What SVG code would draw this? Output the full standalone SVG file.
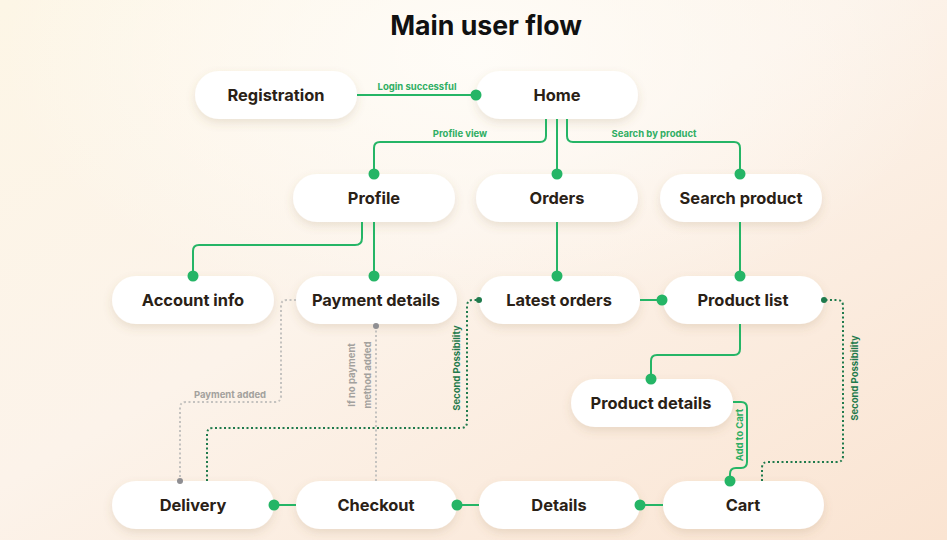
<svg xmlns="http://www.w3.org/2000/svg" width="947" height="540" viewBox="0 0 947 540">
<defs>
<linearGradient id="bg" x1="0" y1="0" x2="1" y2="1">
<stop offset="0" stop-color="#fdf6e6"/>
<stop offset="0.45" stop-color="#fcf3ea"/>
<stop offset="1" stop-color="#fae4d2"/>
</linearGradient>
<radialGradient id="glow" cx="0.5" cy="0.1" r="0.5">
<stop offset="0" stop-color="#fffdf9" stop-opacity="0.9"/>
<stop offset="1" stop-color="#fffdf9" stop-opacity="0"/>
</radialGradient>
<filter id="sh" x="-20%" y="-40%" width="140%" height="190%">
<feDropShadow dx="0" dy="4" stdDeviation="5" flood-color="#8a6a40" flood-opacity="0.16"/>
</filter>
</defs>
<style>
.node rect{fill:#ffffff;filter:url(#sh)}
.node text{font-family:Inter,"Liberation Sans",sans-serif;font-weight:700;font-size:16.4px;fill:#2a2116;text-anchor:middle;dominant-baseline:central}
.g{fill:none;stroke:#25b566;stroke-width:2}
.gd{fill:#25b566}
.dk{fill:none;stroke:#1f7a4c;stroke-width:2;stroke-dasharray:2 2.5}
.dkd{fill:#1f7a4c}
.gr{fill:none;stroke:#c4c2bf;stroke-width:2;stroke-dasharray:2 2.5}
.grd{fill:#8e8e92}
.lbl{font-family:Inter,"Liberation Sans",sans-serif;font-weight:700;font-size:9.5px;fill:#2fae63;text-anchor:middle}
.lbldk{font-family:Inter,"Liberation Sans",sans-serif;font-weight:700;font-size:9.5px;fill:#1f7a4c;text-anchor:middle}
.lblgr{font-family:Inter,"Liberation Sans",sans-serif;font-weight:700;font-size:9.5px;fill:#a3a19d;text-anchor:middle}
</style>
<rect width="947" height="540" fill="url(#bg)"/>
<rect width="947" height="540" fill="url(#glow)"/>
<text x="486" y="35" font-family="Inter,'Liberation Sans',sans-serif" font-weight="700" font-size="26.7" fill="#111" text-anchor="middle">Main user flow</text>

<g id="registration" class="node"><rect x="195" y="71" width="162" height="48" rx="24"/><text x="276" y="95">Registration</text></g>
<g id="home" class="node"><rect x="476" y="71" width="162" height="48" rx="24"/><text x="557" y="95">Home</text></g>
<g id="profile" class="node"><rect x="293" y="174" width="162" height="48" rx="24"/><text x="374" y="198">Profile</text></g>
<g id="orders" class="node"><rect x="476" y="174" width="162" height="48" rx="24"/><text x="557" y="198">Orders</text></g>
<g id="search-product" class="node"><rect x="660" y="174" width="162" height="48" rx="24"/><text x="741" y="198">Search product</text></g>
<g id="account-info" class="node"><rect x="112" y="276" width="162" height="48" rx="24"/><text x="193" y="300">Account info</text></g>
<g id="payment-details" class="node"><rect x="296" y="276" width="161" height="48" rx="24"/><text x="376" y="300">Payment details</text></g>
<g id="latest-orders" class="node"><rect x="479" y="276" width="161" height="48" rx="24"/><text x="559" y="300">Latest orders</text></g>
<g id="product-list" class="node"><rect x="663" y="276" width="161" height="48" rx="24"/><text x="743" y="300">Product list</text></g>
<g id="product-details" class="node"><rect x="571" y="379" width="162" height="48" rx="24"/><text x="651" y="403">Product details</text></g>
<g id="delivery" class="node"><rect x="112" y="481" width="162" height="48" rx="24"/><text x="193" y="505">Delivery</text></g>
<g id="checkout" class="node"><rect x="296" y="481" width="161" height="48" rx="24"/><text x="376" y="505">Checkout</text></g>
<g id="details" class="node"><rect x="479" y="481" width="161" height="48" rx="24"/><text x="559" y="505">Details</text></g>
<g id="cart" class="node"><rect x="663" y="481" width="161" height="48" rx="24"/><text x="743" y="505">Cart</text></g>

<g id="connectors">
<!-- Registration -> Home -->
<path class="g" d="M357 95 H476"/>
<circle class="gd" cx="476" cy="95" r="5.5"/>
<text class="lbl" x="417" y="90">Login successful</text>
<!-- Home -> Profile -->
<path class="g" d="M546 119 V136 Q546 142 540 142 H380 Q374 142 374 148 V174"/>
<circle class="gd" cx="374" cy="174" r="5.5"/>
<text class="lbl" x="460" y="137">Profile view</text>
<!-- Home -> Orders -->
<path class="g" d="M557 119 V174"/>
<circle class="gd" cx="557" cy="174" r="5.5"/>
<!-- Home -> Search product -->
<path class="g" d="M567 119 V136 Q567 142 573 142 H734 Q740 142 740 148 V174"/>
<circle class="gd" cx="740" cy="174" r="5.5"/>
<text class="lbl" x="654" y="137">Search by product</text>
<!-- Profile -> Account info -->
<path class="g" d="M362 222 V238 Q362 245 355 245 H199 Q193 245 193 251 V276"/>
<circle class="gd" cx="193" cy="276" r="5.5"/>
<!-- Profile -> Payment details -->
<path class="g" d="M374 222 V276"/>
<circle class="gd" cx="374" cy="276" r="5.5"/>
<!-- Orders -> Latest orders -->
<path class="g" d="M557 222 V276"/>
<circle class="gd" cx="557" cy="276" r="5.5"/>
<!-- Search product -> Product list -->
<path class="g" d="M740 222 V276"/>
<circle class="gd" cx="740" cy="276" r="5.5"/>
<!-- Latest orders -> Product list -->
<path class="g" d="M640 300 H662"/>
<circle class="gd" cx="662" cy="300" r="5.5"/>
<!-- Product list -> Product details -->
<path class="g" d="M740 324 V349 Q740 355 734 355 H657 Q651 355 651 361 V379"/>
<circle class="gd" cx="651" cy="379" r="5.5"/>
<!-- Product details -> Cart -->
<path class="g" d="M733 402 H741 Q747 402 747 408 V462 Q747 468 741 468 H736 Q730 468 730 474 V481"/>
<circle class="gd" cx="730" cy="481" r="5.5"/>
<text class="lbl" transform="translate(743 435) rotate(-90)">Add to Cart</text>
<!-- Cart -> Product list (dotted) -->
<path class="dk" d="M762 481 V468 Q762 462 768 462 H837 Q843 462 843 456 V306 Q843 300 837 300 H826"/>
<circle class="dkd" cx="824" cy="300" r="3"/>
<text class="lbldk" transform="translate(858 378) rotate(-90)">Second Possibility</text>
<!-- Delivery -> Latest orders (dotted) -->
<path class="dk" d="M207 481 V434 Q207 428 213 428 H461 Q467 428 467 422 V306 Q467 300 473 300 H477"/>
<circle class="dkd" cx="479" cy="300" r="3"/>
<text class="lbldk" transform="translate(460 368) rotate(-90)">Second Possibility</text>
<!-- Payment details -> Delivery (gray dotted) -->
<path class="gr" d="M296 300 H287 Q281 300 281 306 V396 Q281 402 275 402 H186 Q180 402 180 408 V479"/>
<circle class="grd" cx="180" cy="481" r="3"/>
<text class="lblgr" x="230" y="398">Payment added</text>
<!-- Checkout -> Payment details (gray dotted) -->
<path class="gr" d="M376 481 V328"/>
<circle class="grd" cx="376" cy="326" r="3"/>
<text class="lblgr" transform="translate(355 375) rotate(-90)">If no payment</text>
<text class="lblgr" transform="translate(371 375) rotate(-90)">method added</text>
<!-- Checkout -> Delivery -->
<path class="g" d="M274 505 H296"/>
<circle class="gd" cx="274" cy="505" r="5.5"/>
<!-- Details -> Checkout -->
<path class="g" d="M457 505 H479"/>
<circle class="gd" cx="457" cy="505" r="5.5"/>
<!-- Cart -> Details -->
<path class="g" d="M640 505 H663"/>
<circle class="gd" cx="640" cy="505" r="5.5"/>
</g>
</svg>
